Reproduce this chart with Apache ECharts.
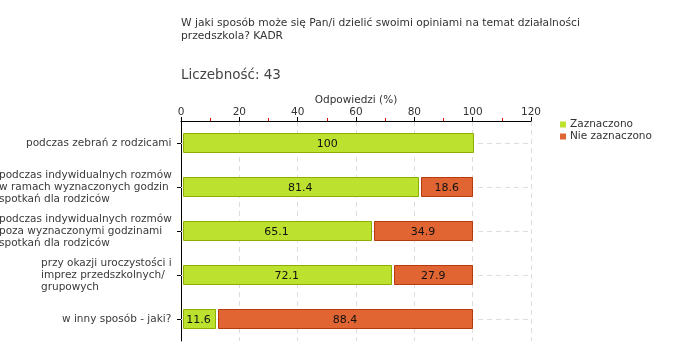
<!DOCTYPE html>
<html>
<head>
<meta charset="utf-8">
<script src="https://cdn.jsdelivr.net/npm/echarts@6/dist/echarts.min.js"></script>
<style>html,body{margin:0;padding:0;background:#fff}#c{width:680px;height:360px}</style>
</head>
<body>
<div id="c"></div>
<script>
var titleText = 'W jaki sposób może się Pan/i dzielić swoimi opiniami na temat działalności\nprzedszkola? KADR';
var countText = 'Liczebność: 43';
var axisName = 'Odpowiedzi (%)';
var categories = [
  'podczas zebrań z rodzicami',
  'podczas indywidualnych rozmów\nw ramach wyznaczonych godzin\nspotkań dla rodziców',
  'podczas indywidualnych rozmów\npoza wyznaczonymi godzinami\nspotkań dla rodziców',
  'przy okazji uroczystości i\nimprez przedszkolnych/\ngrupowych',
  'w inny sposób - jaki?'
];
var seriesNames = ['Zaznaczono', 'Nie zaznaczono'];
var zaznaczono = [100, 81.4, 65.1, 72.1, 11.6];
var nieZaznaczono = [0, 18.6, 34.9, 27.9, 88.4];
var xTicks = [0, 20, 40, 60, 80, 100, 120];

var FONT = 'DejaVu Sans';
var FS = 10.5;
var GREEN = '#bde12f', GREEN_B = '#8cae00';
var RED = '#e06532', RED_B = '#b63a0e';
var GAP = 3;

var cv = document.createElement('canvas').getContext('2d');
cv.font = FS + 'px "' + FONT + '"';
var rich = {};
categories.forEach(function (c, i) {
  var w = 0;
  c.split('\n').forEach(function (l) { w = Math.max(w, cv.measureText(l).width); });
  rich['w' + i] = { width: Math.ceil(w) + 1, align: 'left', fontFamily: FONT, fontSize: FS, color: '#3a3a3a', lineHeight: 12 };
});

var data0 = categories.map(function (c, i) { return [i, 0, zaznaczono[i]]; });
var data1 = categories.map(function (c, i) { return [i, zaznaczono[i], nieZaznaczono[i]]; });

function makeRender(fill, stroke, isFirst) {
  return function (params, api) {
    var idx = api.value(0);
    var start = api.value(1);
    var len = api.value(2);
    var children = [];
    var yc = api.coord([0, idx])[1];
    if (isFirst) {
      var l0 = api.coord([0, idx]);
      var l1 = api.coord([xTicks[xTicks.length - 1], idx]);
      children.push({ type: 'line', shape: { x1: l0[0], y1: Math.round(yc) + 0.5, x2: l1[0], y2: Math.round(yc) + 0.5 },
        style: { stroke: '#dddddd', lineWidth: 1, lineDash: [5, 4] } });
    }
    if (len > 0) {
      var p0 = api.coord([start, idx]);
      var p1 = api.coord([start + len, idx]);
      var x0 = isFirst ? p0[0] + 1.5 : p0[0] + GAP;
      var x1 = p1[0] - 0.5;
      var h = 20;
      var y0 = Math.round(yc - h / 2) + 0.5;
      children.push({ type: 'rect', shape: { x: Math.round(x0) + 0.5, y: y0, width: Math.round(x1 - x0), height: h - 1 },
        style: { fill: fill, stroke: stroke, lineWidth: 1 } });
      children.push({ type: 'text', style: { text: String(len), x: (x0 + x1) / 2, y: yc + 1, align: 'center', verticalAlign: 'middle',
        fill: '#111', font: '11px "' + FONT + '"' } });
    }
    return { type: 'group', children: children };
  };
}

var chart = echarts.init(document.getElementById('c'), null, { renderer: 'canvas' });
chart.setOption({
  animation: false,
  backgroundColor: '#ffffff',
  textStyle: { fontFamily: FONT },
  title: [
    { text: titleText, left: 176, top: 12, textStyle: { fontSize: 10.7, fontWeight: 'normal', color: '#333', fontFamily: FONT, lineHeight: 12.5 } },
    { text: countText, left: 176, top: 63, textStyle: { fontSize: 13.5, fontWeight: 'normal', color: '#444', fontFamily: FONT } }
  ],
  legend: {
    orient: 'vertical', left: 555, top: 114, itemWidth: 6, itemHeight: 6, itemGap: 1,
    icon: 'rect', textStyle: { fontSize: FS, color: '#333', fontFamily: FONT, padding: [0, 0, 0, -1] },
    data: seriesNames
  },
  grid: { left: 181, top: 121, width: 350, height: 220, containLabel: false, outerBoundsMode: 'none' },
  xAxis: {
    type: 'value', position: 'top', min: xTicks[0], max: xTicks[xTicks.length - 1], interval: 20,
    name: axisName, nameLocation: 'middle', nameGap: 15, nameMoveOverlap: false,
    nameTextStyle: { fontSize: FS, color: '#333', fontFamily: FONT },
    axisLine: { show: true, lineStyle: { color: '#000', width: 1 } },
    axisTick: { show: true, length: 4, lineStyle: { color: '#000' } },
    minorTick: { show: true, splitNumber: 2, length: 3, lineStyle: { color: '#e00000' } },
    axisLabel: { fontSize: FS, color: '#333', margin: 3, fontFamily: FONT },
    splitLine: { show: true, lineStyle: { color: '#dddddd', type: [5, 4] } }
  },
  yAxis: {
    type: 'category', inverse: true, data: categories,
    axisLine: { show: true, lineStyle: { color: '#000' } },
    axisTick: { show: true, alignWithLabel: true, length: 4, lineStyle: { color: '#000' } },
    axisLabel: {
      margin: 8, align: 'right',
      formatter: function (v, i) { return '{w' + i + '|' + v.split('\n').join('}\n{w' + i + '|') + '}'; },
      rich: rich
    },
    splitLine: { show: false }
  },
  series: [
    { name: seriesNames[0], type: 'custom', renderItem: makeRender(GREEN, GREEN_B, true), data: data0,
      itemStyle: { color: GREEN }, encode: { x: [1, 2], y: 0 } },
    { name: seriesNames[1], type: 'custom', renderItem: makeRender(RED, RED_B, false), data: data1,
      itemStyle: { color: RED }, encode: { x: [1, 2], y: 0 } }
  ]
});
</script>
</body>
</html>
